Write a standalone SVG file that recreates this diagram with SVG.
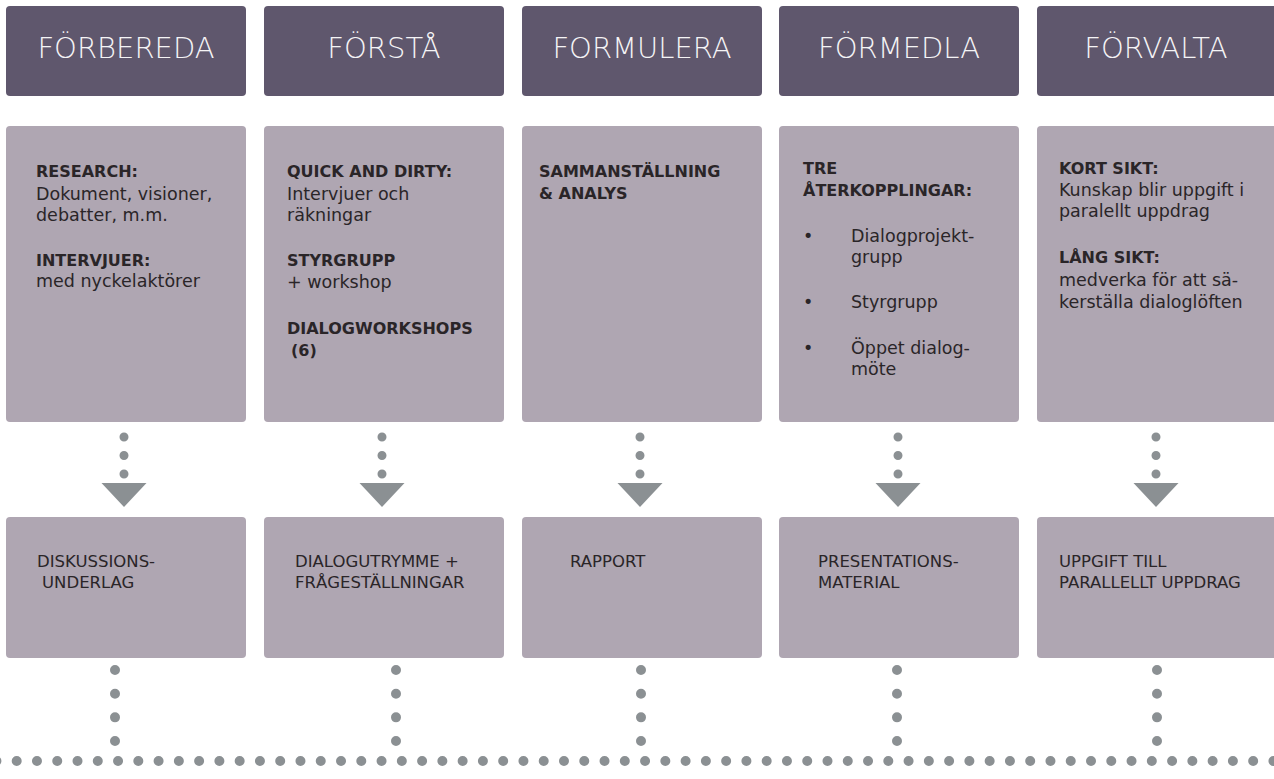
<svg xmlns="http://www.w3.org/2000/svg" width="1274" height="779" viewBox="0 0 1274 779">
<style>
.hdr{fill:#5f576d}
.box{fill:#afa6b2}
.ht{font-family:"DejaVu Sans","Liberation Sans",sans-serif;font-size:29px;font-weight:300;fill:#f5f4f6;text-anchor:middle}
.t{font-family:"DejaVu Sans","Liberation Sans",sans-serif;font-size:17.5px;fill:#2a2528}
.b{font-family:"DejaVu Sans","Liberation Sans",sans-serif;font-size:16px;font-weight:bold;fill:#2a2528}
.bt{font-family:"DejaVu Sans","Liberation Sans",sans-serif;font-size:16.5px;fill:#2a2528}
.dot{stroke:#8b9093;stroke-linecap:round;fill:none}
.tri{fill:#8b9093}
</style>
<rect width="1274" height="779" fill="#ffffff"/>
<g id="col1">
<g id="h1"><rect class="hdr" x="6" y="6" width="240" height="90" rx="4"/><text class="ht" x="126" y="58">FÖRBEREDA</text></g>
<g id="m1"><rect class="box" x="6" y="126" width="240" height="296" rx="4"/>
<text class="b" x="36" y="177">RESEARCH:</text>
<text class="t" x="36" y="200">Dokument, visioner,</text>
<text class="t" x="36" y="221">debatter, m.m.</text>
<text class="b" x="36" y="266">INTERVJUER:</text>
<text class="t" x="36" y="287">med nyckelaktörer</text></g>
<g id="o1"><rect class="box" x="6" y="517" width="240" height="141" rx="4"/>
<text class="bt" x="37" y="567">DISKUSSIONS-</text>
<text class="bt" x="42" y="588">UNDERLAG</text></g>
</g>
<g id="col2">
<g id="h2"><rect class="hdr" x="264" y="6" width="240" height="90" rx="4"/><text class="ht" x="384" y="58">FÖRSTÅ</text></g>
<g id="m2"><rect class="box" x="264" y="126" width="240" height="296" rx="4"/>
<text class="b" x="287" y="177">QUICK AND DIRTY:</text>
<text class="t" x="287" y="200">Intervjuer och</text>
<text class="t" x="287" y="221">räkningar</text>
<text class="b" x="287" y="266">STYRGRUPP</text>
<text class="t" x="287" y="288">+ workshop</text>
<text class="b" x="287" y="334">DIALOGWORKSHOPS</text>
<text class="b" x="291" y="356">(6)</text></g>
<g id="o2"><rect class="box" x="264" y="517" width="240" height="141" rx="4"/>
<text class="bt" x="295" y="567">DIALOGUTRYMME +</text>
<text class="bt" x="295" y="588">FRÅGESTÄLLNINGAR</text></g>
</g>
<g id="col3">
<g id="h3"><rect class="hdr" x="522" y="6" width="240" height="90" rx="4"/><text class="ht" x="642" y="58">FORMULERA</text></g>
<g id="m3"><rect class="box" x="522" y="126" width="240" height="296" rx="4"/>
<text class="b" x="539" y="177">SAMMANSTÄLLNING</text>
<text class="b" x="539" y="199">&amp; ANALYS</text></g>
<g id="o3"><rect class="box" x="522" y="517" width="240" height="141" rx="4"/>
<text class="bt" x="570" y="567">RAPPORT</text></g>
</g>
<g id="col4">
<g id="h4"><rect class="hdr" x="779" y="6" width="240" height="90" rx="4"/><text class="ht" x="899" y="58">FÖRMEDLA</text></g>
<g id="m4"><rect class="box" x="779" y="126" width="240" height="296" rx="4"/>
<text class="b" x="803" y="174">TRE</text>
<text class="b" x="803" y="196">ÅTERKOPPLINGAR:</text>
<text class="t" x="803" y="242">•</text>
<text class="t" x="851" y="242">Dialogprojekt-</text>
<text class="t" x="851" y="263">grupp</text>
<text class="t" x="803" y="308">•</text>
<text class="t" x="851" y="308">Styrgrupp</text>
<text class="t" x="803" y="354">•</text>
<text class="t" x="851" y="354">Öppet dialog-</text>
<text class="t" x="851" y="375">möte</text></g>
<g id="o4"><rect class="box" x="779" y="517" width="240" height="141" rx="4"/>
<text class="bt" x="818" y="567">PRESENTATIONS-</text>
<text class="bt" x="818" y="588">MATERIAL</text></g>
</g>
<g id="col5">
<g id="h5"><rect class="hdr" x="1037" y="6" width="245" height="90" rx="4"/><text class="ht" x="1156" y="58">FÖRVALTA</text></g>
<g id="m5"><rect class="box" x="1037" y="126" width="245" height="296" rx="4"/>
<text class="b" x="1059" y="174">KORT SIKT:</text>
<text class="t" x="1059" y="196">Kunskap blir uppgift i</text>
<text class="t" x="1059" y="217">paralellt uppdrag</text>
<text class="b" x="1059" y="263">LÅNG SIKT:</text>
<text class="t" x="1059" y="286">medverka för att sä-</text>
<text class="t" x="1059" y="308">kerställa dialoglöften</text></g>
<g id="o5"><rect class="box" x="1037" y="517" width="245" height="141" rx="4"/>
<text class="bt" x="1059" y="567">UPPGIFT TILL</text>
<text class="bt" x="1059" y="588">PARALLELLT UPPDRAG</text></g>
</g>
<g id="connectors">
<g stroke-width="9" stroke-dasharray="0 18.5" class="dot">
<line class="dot" x1="124" y1="437" x2="124" y2="475"/>
<line class="dot" x1="382" y1="437" x2="382" y2="475"/>
<line class="dot" x1="640" y1="437" x2="640" y2="475"/>
<line class="dot" x1="898" y1="437" x2="898" y2="475"/>
<line class="dot" x1="1156" y1="437" x2="1156" y2="475"/>
</g>
<polygon class="tri" points="101.5,483 146.5,483 124,507"/>
<polygon class="tri" points="359.5,483 404.5,483 382,507"/>
<polygon class="tri" points="617.5,483 662.5,483 640,507"/>
<polygon class="tri" points="875.5,483 920.5,483 898,507"/>
<polygon class="tri" points="1133.5,483 1178.5,483 1156,507"/>
<g stroke-width="10" stroke-dasharray="0 23.67" class="dot">
<line class="dot" x1="115" y1="670" x2="115" y2="742"/>
<line class="dot" x1="396" y1="670" x2="396" y2="742"/>
<line class="dot" x1="641" y1="670" x2="641" y2="742"/>
<line class="dot" x1="897" y1="670" x2="897" y2="742"/>
<line class="dot" x1="1157" y1="670" x2="1157" y2="742"/>
</g>
<line class="dot" stroke-width="10" stroke-dasharray="0 20.27" x1="-3.57" y1="761" x2="1280" y2="761"/>
</g>
</svg>
